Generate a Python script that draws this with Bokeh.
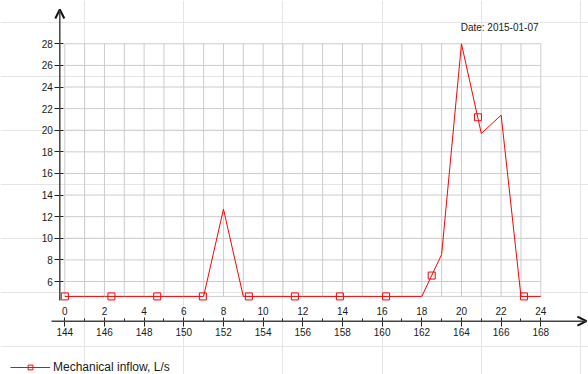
from bokeh.plotting import figure
from bokeh.models import (Range1d, LinearAxis, FixedTicker, Arrow, OpenHead, Legend,
                          LegendItem, Label, ColumnDataSource)
from bokeh.embed import file_html
from bokeh.resources import INLINE

# ---- data ----
hours = list(range(144, 169))
inflow = [4.62, 4.62, 4.62, 4.62, 4.62, 4.62, 4.62, 4.62, 12.7, 4.62,
          4.62, 4.62, 4.62, 4.62, 4.62, 4.62, 4.62, 4.62, 4.62, 8.5,
          28.0, 19.7, 21.4, 4.62, 4.62]
marker_hours = [144.0, 146.35, 148.66, 150.96, 153.28, 155.6, 157.87, 160.2, 162.5, 164.83, 167.15]
marker_values = [4.62, 4.62, 4.62, 4.62, 4.62, 4.62, 4.62, 4.62, 6.55, 21.2, 4.62]
bottom_ticks = list(range(144, 169, 2))
top_ticks = list(range(0, 25, 2))
top_minor = list(range(1, 24, 2))
y_ticks = list(range(6, 29, 2))
series_name = "Mechanical inflow, L/s"
date_text = "Date: 2015-01-07"

FONT = "Liberation Sans"
W, H = 588, 374
x0, x1 = 140.758, 170.405
y0, y1 = -2.606, 32.007
hour_offset = 144

p = figure(width=W, height=H, output_backend="svg", toolbar_location=None,
           x_range=Range1d(x0, x1), y_range=Range1d(y0, y1),
           x_axis_location=None, y_axis_location=None,
           min_border=0, outline_line_color=None,
           background_fill_color="white", border_fill_color="white")
p.extra_x_ranges = {"hrs": Range1d(x0 - hour_offset, x1 - hour_offset)}

ymin = min(inflow)
ymax = max(y_ticks)
xmin, xmax = min(hours), max(hours)

# grid
p.segment(x0=hours, y0=[ymin] * len(hours), x1=hours, y1=[ymax] * len(hours),
          line_color="#cccccc", line_width=1)
hy = [ymin] + y_ticks
p.segment(x0=[xmin] * len(hy), y0=hy, x1=[xmax] * len(hy), y1=hy,
          line_color="#cccccc", line_width=1)

# series
src = ColumnDataSource(dict(x=hours, y=inflow))
msrc = ColumnDataSource(dict(x=marker_hours, y=marker_values))
lr = p.line("x", "y", source=src, line_color="#ff0000", line_width=1)
sr = p.scatter("x", "y", source=msrc, marker="square", size=7,
               line_color="#ff0000", fill_color=None, line_width=1)

# axes
x_axis_y = 2.327
y_axis_x = 143.748

def style(ax):
    ax.axis_line_color = None
    ax.major_label_text_font = FONT
    ax.major_label_text_font_size = "10px"
    ax.major_label_text_color = "#1a1a1a"
    ax.major_tick_line_color = "#222222"
    ax.minor_tick_line_color = "#222222"

bx = LinearAxis(ticker=FixedTicker(ticks=bottom_ticks), fixed_location=x_axis_y)
style(bx)
bx.major_tick_in = 4
bx.major_tick_out = 5
bx.minor_tick_out = 0
bx.minor_tick_in = 0
bx.major_label_standoff = 2
p.add_layout(bx, "below")

tx = LinearAxis(x_range_name="hrs", ticker=FixedTicker(ticks=top_ticks, minor_ticks=top_minor),
                fixed_location=x_axis_y)
style(tx)
tx.major_tick_in = 0
tx.major_tick_out = 0
tx.minor_tick_out = 3
tx.minor_tick_in = 0
tx.major_label_standoff = 3
p.add_layout(tx, "above")

ly = LinearAxis(ticker=FixedTicker(ticks=y_ticks), fixed_location=y_axis_x)
style(ly)
ly.major_tick_in = 4
ly.major_tick_out = 5
ly.minor_tick_in = 0
ly.minor_tick_out = 0
ly.major_label_standoff = 2
p.add_layout(ly, "left")

# axis lines with arrow heads
p.add_layout(Arrow(x_start=143.33, y_start=x_axis_y, x_end=170.3, y_end=x_axis_y,
                   line_color="#444444", line_width=1.5,
                   end=OpenHead(size=9, line_width=2, line_color="#111111")))
p.add_layout(Arrow(x_start=y_axis_x, y_start=4.24, x_end=y_axis_x, y_end=31.17,
                   line_color="#444444", line_width=1.5,
                   end=OpenHead(size=9, line_width=2, line_color="#111111")))

# date
p.add_layout(Label(x=538, y=347, x_units="screen", y_units="screen", text=date_text,
                   text_align="right", text_baseline="middle", text_font=FONT,
                   text_font_size="10px", text_color="#1a1a1a"))

# legend
legend = Legend(items=[LegendItem(label=series_name, renderers=[lr, sr])],
                location=(10, 0), border_line_color=None, background_fill_alpha=0,
                padding=0, margin=0, glyph_width=40, glyph_height=12, label_height=12,
                label_standoff=3, label_text_font=FONT, label_text_font_size="12px",
                label_text_color="#1a1a1a")
p.add_layout(legend)

open("out.html", "w").write(file_html(p, INLINE))
